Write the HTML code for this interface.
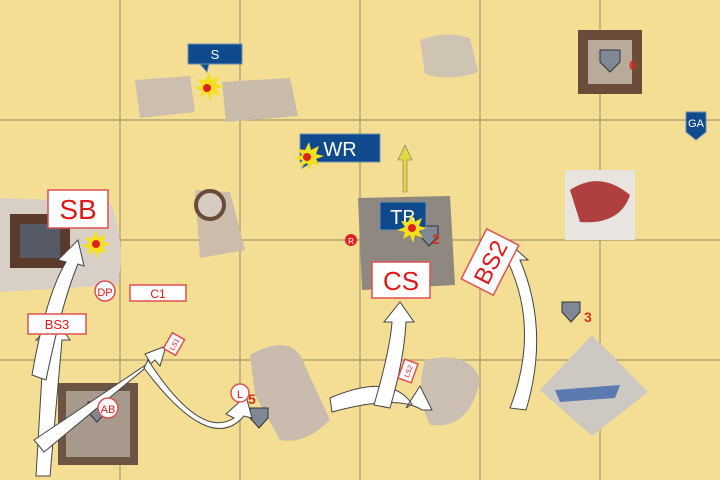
<!DOCTYPE html>
<html><head><meta charset="utf-8"><style>
html,body{margin:0;padding:0;background:#f2dc8e}
svg{display:block}
text{font-family:"Liberation Sans",sans-serif}
</style></head><body>
<svg width="720" height="480" viewBox="0 0 720 480" xmlns="http://www.w3.org/2000/svg">
<rect width="720" height="480" fill="#f3de93"/>
<g stroke="#a89a6a" stroke-width="1.2">
<line x1="120" y1="0" x2="120" y2="480"/><line x1="240" y1="0" x2="240" y2="480"/><line x1="360" y1="0" x2="360" y2="480"/><line x1="480" y1="0" x2="480" y2="480"/><line x1="600" y1="0" x2="600" y2="480"/>
<line x1="0" y1="120" x2="720" y2="120"/><line x1="0" y1="240" x2="720" y2="240"/><line x1="0" y1="360" x2="720" y2="360"/>
</g>
<g>
<path d="M135 80 L190 76 L195 112 L140 118 Z" fill="#cdbfae"/>
<path d="M222 82 L290 78 L298 116 L226 122 Z" fill="#c9bba9"/>
<path d="M420 40 Q445 30 470 38 L478 72 Q450 82 425 74 Z" fill="#cfc3b2"/>
<rect x="578" y="30" width="64" height="64" fill="#6a4c3a"/><rect x="588" y="40" width="44" height="44" fill="#b8ab9c"/>
<path d="M195 190 L230 192 L245 250 L200 258 Z" fill="#cbbcab"/>
<circle cx="210" cy="205" r="14" fill="#d6cbc0" stroke="#6a4a38" stroke-width="4"/>
<path d="M0 198 L110 202 Q126 240 118 285 L0 292 Z" fill="#d8d0c6"/>
<rect x="10" y="214" width="60" height="54" fill="#5a3a2a"/><rect x="20" y="224" width="40" height="34" fill="#555a66"/>
<path d="M358 198 L450 196 L455 285 L362 290 Z" fill="#8f8880"/>
<rect x="565" y="170" width="70" height="70" fill="#e8e4e0"/><path d="M570 190 Q600 170 630 195 Q620 225 580 222 Z" fill="#b04040"/>
<path d="M250 355 Q285 335 300 355 L330 420 Q305 445 280 440 L255 395 Z" fill="#c9bcae"/>
<path d="M425 360 Q470 350 480 380 Q470 430 430 425 Q415 395 425 360 Z" fill="#cbbfb1"/>
<path d="M592 335 L648 392 L592 436 L540 390 Z" fill="#cdc8c2"/><path d="M555 390 L620 385 L615 398 L560 402 Z" fill="#5a7ab0"/>
<rect x="58" y="383" width="80" height="82" fill="#6b5443"/><rect x="66" y="391" width="64" height="66" fill="#a79a8c"/>
</g>
<g fill="#7f8894" stroke="#333" stroke-width="1">
<path d="M250 408 h18 v10 l-9 10 l-9 -10 Z"/><path d="M562 302 h18 v10 l-9 10 l-9 -10 Z"/><path d="M600 50 h20 v12 l-10 10 l-10 -10 Z"/><path d="M88 402 h18 v10 l-9 10 l-9 -10 Z"/><path d="M420 226 h18 v10 l-9 10 l-9 -10 Z"/>
</g>
<g fill="#d03020" font-family="Liberation Serif" font-weight="bold" font-size="14">
<text x="584" y="322">3</text><text x="432" y="244">2</text><text x="629" y="70">6</text><text x="248" y="404">5</text>
</g>
<g fill="#fff" stroke="#444" stroke-width="1">
<path d="M36 476 L44 340 L36 340 L56 320 L70 340 L62 340 L50 476 Z"/>
<path d="M32 375 Q46 295 66 262 L58 260 L78 240 L84 266 L78 264 Q62 302 46 380 Z"/>
<path d="M34 440 L150 362 L145 354 L166 346 L160 366 L155 360 L44 452 Z"/>
<path d="M148 360 Q200 440 234 418 L226 414 L246 396 L252 418 L244 416 Q210 456 144 368 Z"/>
<path d="M330 398 Q390 372 412 404 L406 408 L420 386 L432 410 L422 410 Q398 394 332 412 Z"/>
<path d="M374 405 Q390 350 392 322 L384 322 L400 302 L414 322 L406 322 Q404 360 390 408 Z"/>
<path d="M510 408 Q540 330 508 262 L502 266 L510 244 L528 260 L520 260 Q550 330 526 410 Z"/>
</g>
<path d="M403 192 L403 160 L398 160 L405 145 L412 160 L407 160 L407 192 Z" fill="#e0d840" stroke="#777" stroke-width="0.6"/>
<g fill="#0f4a8c" stroke="#6f90b0" stroke-width="1">
<rect x="188" y="44" width="54" height="20"/><path d="M200 64 l7 8 l2 -8 Z"/>
<rect x="300" y="134" width="80" height="28"/><path d="M305 162 l-3 6 l12 -6 Z"/>
<rect x="380" y="202" width="46" height="28"/>
<path d="M686 112 h20 v20 l-10 8 l-10 -8 Z"/>
</g>
<g fill="#fff" text-anchor="middle">
<text x="215" y="59" font-size="13">S</text><text x="340" y="156" font-size="20">WR</text><text x="403" y="224" font-size="20">TB</text><text x="696" y="127" font-size="11">GA</text>
</g>
<g>
<path d="M205 80 l4 -8 l2 8 l8 -4 l-3 8 l8 2 l-8 3 l4 7 l-8 -3 l-2 8 l-3 -8 l-7 4 l2 -7 l-8 -2 l8 -3 l-4 -6 Z" fill="#f5e020"/><circle cx="207" cy="88" r="4" fill="#e02020"/>
<path d="M305 150 l4 -8 l2 8 l8 -4 l-3 8 l8 2 l-8 3 l4 7 l-8 -3 l-2 8 l-3 -8 l-7 4 l2 -7 l-8 -2 l8 -3 l-4 -6 Z" fill="#f5e020"/><circle cx="307" cy="157" r="4" fill="#e02020"/>
<path d="M92 238 l4 -8 l2 8 l8 -4 l-3 8 l8 2 l-8 3 l4 7 l-8 -3 l-2 8 l-3 -8 l-7 4 l2 -7 l-8 -2 l8 -3 l-4 -6 Z" fill="#f5e020"/><circle cx="96" cy="244" r="4" fill="#e02020"/>
<path d="M408 222 l4 -8 l2 8 l8 -4 l-3 8 l8 2 l-8 3 l4 7 l-8 -3 l-2 8 l-3 -8 l-7 4 l2 -7 l-8 -2 l8 -3 l-4 -6 Z" fill="#f5e020"/><circle cx="412" cy="228" r="4" fill="#e02020"/>
</g>
<g fill="#fff" stroke="#e05050" stroke-width="1.5">
<rect x="48" y="190" width="60" height="38"/>
<rect x="372" y="262" width="58" height="36"/>
<rect x="28" y="314" width="58" height="20"/>
<rect x="130" y="285" width="56" height="16"/>
<circle cx="105" cy="291" r="10"/><circle cx="108" cy="408" r="10"/><circle cx="240" cy="393" r="9"/>
<g transform="translate(490 262) rotate(-63)"><rect x="-28" y="-18" width="56" height="36"/></g>
<g transform="translate(174 344) rotate(-60)"><rect x="-9" y="-7" width="18" height="14"/></g>
<g transform="translate(408 371) rotate(-70)"><rect x="-10" y="-7" width="20" height="14"/></g>
</g>
<circle cx="351" cy="240" r="6" fill="#e02020"/>
<g fill="#e01818" text-anchor="middle">
<text x="78" y="219" font-size="28">SB</text>
<text x="401" y="290" font-size="26">CS</text>
<text x="57" y="329" font-size="13">BS3</text>
<text x="158" y="298" font-size="12">C1</text>
<text x="105" y="296" font-size="11">DP</text>
<text x="108" y="413" font-size="11">AB</text>
<text x="240" y="398" font-size="11">L</text>
<text x="490" y="271" font-size="24" transform="rotate(-63 490 262)">BS2</text>
<text x="174" y="347" font-size="7" transform="rotate(-60 174 344)">LS1</text>
<text x="408" y="374" font-size="7" transform="rotate(-70 408 371)">LS2</text>
</g>
<text x="351" y="244" font-size="8" fill="#fff" text-anchor="middle">R</text>
</svg>
</body></html>
